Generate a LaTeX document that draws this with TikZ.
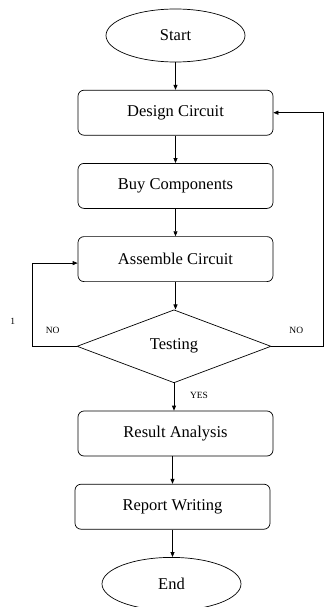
\documentclass[tikz,border=0pt]{standalone}
\usepackage{fontspec}
\setmainfont{Liberation Serif}
\usepackage{tikz}
\usetikzlibrary{positioning,arrows.meta,shapes.geometric}

\begin{document}
\begin{tikzpicture}[
  node distance=27.5pt,
  box/.style={draw, rounded corners=6pt, align=center, minimum height=45pt, minimum width=195pt, inner sep=0pt, font=\fontsize{16.5}{19}\selectfont},
  term/.style={draw, ellipse, minimum width=139pt, minimum height=53pt, inner sep=0pt, font=\fontsize{16.5}{19}\selectfont},
  dec/.style={draw, diamond, minimum width=194pt, minimum height=73pt, inner sep=0pt, font=\fontsize{16.5}{19}\selectfont},
  lbl/.style={inner sep=0pt, font=\fontsize{9.5}{11}\selectfont},
  arr/.style={-{Triangle[length=5pt,width=4pt]}, line width=0.7pt},
  line width=0.7pt
]
\useasboundingbox (0,0) rectangle (336pt,-607pt);
\node[term] (st) at (175.5pt,-35.5pt) {Start};
\node[box, below=of st] (dc) {Design Circuit};
\node[box, below=of dc] (bc) {Buy Components};
\node[box, below=of bc] (ac) {Assemble Circuit};
\node[dec, below=of ac, xshift=-1.5pt] (ts) {Testing};
\node[box, below=of ts, xshift=1.5pt] (ra) {Result Analysis};
\node[box, below=of ra, xshift=-3pt] (rw) {Report Writing};
\node[term, below=of rw, xshift=-1pt] (en) {End};
% labels
\node[lbl] (one) at ([xshift=-64pt,yshift=25pt]ts.west) {1};
\node[lbl] (nol) at ([xshift=-24pt,yshift=16pt]ts.west) {NO};
\node[lbl] (nor) at ([xshift=25pt,yshift=16pt]ts.east) {NO};
\node[lbl] (yes) at ([xshift=25pt,yshift=-12pt]ts.south) {YES};
% main flow
\draw[arr] (st) -- (dc);
\draw[arr] (dc) -- (bc);
\draw[arr] (bc) -- (ac);
\draw[arr] (ac.south) -- (ac.south |- ts.north);
\draw[arr] (ts.south) -- (ts.south |- ra.north);
\draw[arr] (rw.north |- ra.south) -- (rw.north);
\draw[arr] (rw) -- (rw.south |- en.north);
% loops
\draw[arr] (ts.west) -- ++(-44pt,0) |- ([yshift=-4pt]ac.west);
\draw[arr] (ts.east) -- ++(52pt,0) |- (dc.east);
\end{tikzpicture}
\end{document}
